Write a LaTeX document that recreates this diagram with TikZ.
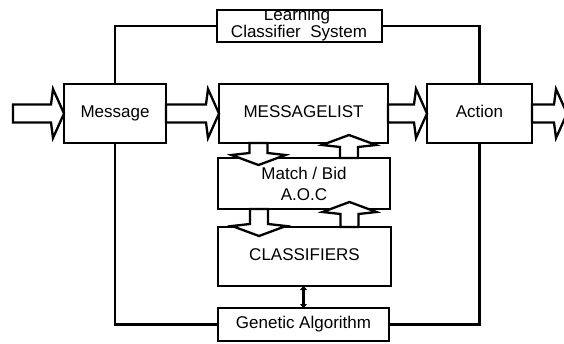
\documentclass[tikz,border=0pt]{standalone}
\usepackage{fontspec}
\setmainfont{Liberation Sans}
\usetikzlibrary{calc,arrows.meta}
\begin{document}
\begin{tikzpicture}[x=1pt,y=-1pt,
  box/.style={draw, line width=2.3pt, outer sep=0pt, inner sep=0pt, fill=white,
    font=\fontsize{17}{20}\selectfont},
  one/.style={text height=12.3pt, text depth=3.5pt},
  link/.style={draw, line width=2.3pt},
  harrow/.style={draw, line width=2.3pt, fill=white, to path={
    let \p1=(\tikztostart), \p2=(\tikztotarget) in
    (\x1,\y1+9pt) -- (\x2-13pt,\y1+9pt) -- (\x2-11pt,\y1+24.5pt) -- (\x2,\y1)
    -- (\x2-11pt,\y1-24.5pt) -- (\x2-13pt,\y1-9pt) -- (\x1,\y1-9pt) -- cycle}},
  varrow/.style={draw, line width=2.3pt, fill=white, to path={
    let \p1=(\tikztostart), \p2=(\tikztotarget), \n1={ifthenelse(\y2>\y1,1,-1)} in
    ({\x1+9pt},{\y1}) -- ({\x1+9pt},{\y2-(\n1)*12pt}) -- ({\x1+27pt},{\y2-(\n1)*10pt})
    -- ({\x1},{\y2}) -- ({\x1-27pt},{\y2-(\n1)*10pt}) -- ({\x1-9pt},{\y2-(\n1)*12pt})
    -- ({\x1-9pt},{\y1}) -- cycle}},
  dbl/.style={line width=3.5pt, {Triangle[length=4pt,width=7pt]}-{Triangle[length=4pt,width=7pt]}}
]
\useasboundingbox (0,0) rectangle (564,343);

% boxes
\node[box,one,minimum width=102,minimum height=59] (msg) at (115,113.5) {Message};
\node[box,one,minimum width=169,minimum height=59] (ml) at (303.5,113.5) {MESSAGELIST};
\node[box,one,minimum width=105,minimum height=59] (act) at (479.5,113.5) {Action};
\node[box,align=center,minimum width=172,minimum height=51,
  font=\fontsize{17}{21}\selectfont] (mb) at (304,183.5) {Match / Bid\\A.O.C};
\node[box,one,minimum width=173,minimum height=59] (cls) at (304.5,256.5) {CLASSIFIERS};
\node[box,one,minimum width=171,minimum height=33] (ga) at (303.5,324.5) {Genetic Algorithm};
\node[box,minimum width=165,minimum height=32] (lcs) at (299.5,26) {};
\begin{scope}
  \clip ([yshift=-1.3]lcs.north west) rectangle (lcs.south east);
  \node[font=\fontsize{17}{20}\selectfont, anchor=base, inner sep=0pt] (lcs1)
    at ([xshift=-2.5,yshift=6]lcs.center) {Learning};
  \node[font=\fontsize{17}{20}\selectfont, anchor=base, inner sep=0pt] (lcs2)
    at ([xshift=-0.5,yshift=-11]lcs.center) {Classifier\ \ System};
\end{scope}

% feedback lines
\draw[link] (msg.north) |- (lcs.west);
\draw[link] (lcs.east) -| (act.north);
\draw[link] (msg.south) |- (ga.west);
\draw[link] (ga.east) -| (act.south);

% horizontal block arrows
\coordinate (in) at (13,113.5);
\coordinate (out) at (567,113.5);
\draw[harrow] (in) to (msg.west);
\draw[harrow] (msg.east) to (ml.west);
\draw[harrow] (ml.east) to (act.west);
\draw[harrow] (act.east) to (out);

% vertical block arrows
\draw[varrow] ([xshift=-45]ml.south) to ([xshift=-45,yshift=-7]mb.north);
\draw[varrow] ([xshift=45]mb.north) to ([xshift=45,yshift=8]ml.south);
\draw[varrow] ([xshift=-45]mb.south) to ([xshift=-45,yshift=-9]cls.north);
\draw[varrow] ([xshift=45]cls.north) to ([xshift=45,yshift=7]mb.south);

% classifiers <-> genetic algorithm
\draw[dbl] (ga.north |- cls.south) -- (ga.north);
\end{tikzpicture}
\end{document}
